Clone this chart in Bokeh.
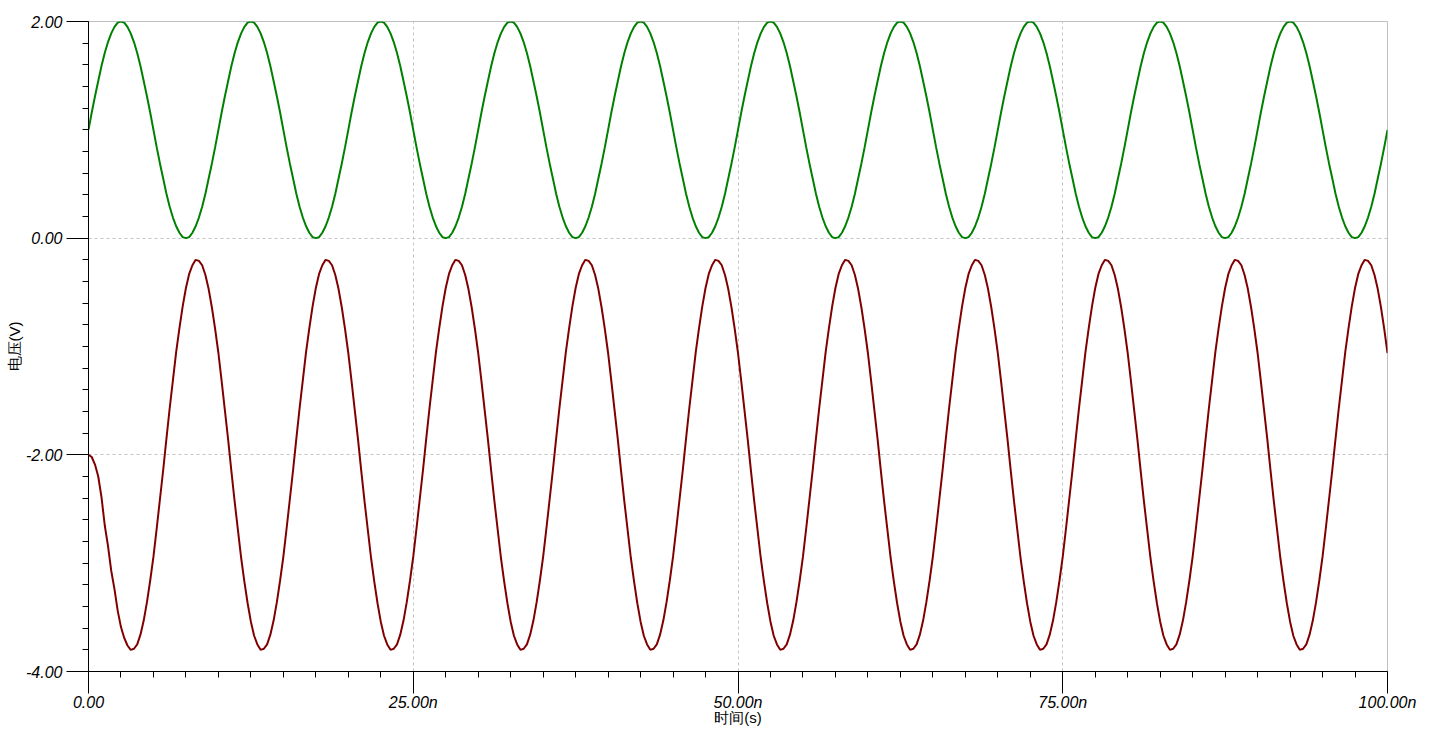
from bokeh.plotting import figure
from bokeh.models import FixedTicker, Range1d
from bokeh.embed import file_html
from bokeh.resources import INLINE

# sampling grid (ns)
time_ns = [i * 0.25 for i in range(401)]

# green trace (V), read every 0.25 ns
v_green = [
    1.00, 1.16, 1.31, 1.45, 1.59, 1.71, 1.81, 1.89, 1.95, 1.99, 2.00, 1.99, 1.95, 1.89, 1.81, 1.71, 1.59, 1.45, 1.31, 1.16,
    1.00, 0.84, 0.69, 0.55, 0.41, 0.29, 0.19, 0.11, 0.05, 0.01, 0.00, 0.01, 0.05, 0.11, 0.19, 0.29, 0.41, 0.55, 0.69, 0.84,
    1.00, 1.16, 1.31, 1.45, 1.59, 1.71, 1.81, 1.89, 1.95, 1.99, 2.00, 1.99, 1.95, 1.89, 1.81, 1.71, 1.59, 1.45, 1.31, 1.16,
    1.00, 0.84, 0.69, 0.55, 0.41, 0.29, 0.19, 0.11, 0.05, 0.01, 0.00, 0.01, 0.05, 0.11, 0.19, 0.29, 0.41, 0.55, 0.69, 0.84,
    1.00, 1.16, 1.31, 1.45, 1.59, 1.71, 1.81, 1.89, 1.95, 1.99, 2.00, 1.99, 1.95, 1.89, 1.81, 1.71, 1.59, 1.45, 1.31, 1.16,
    1.00, 0.84, 0.69, 0.55, 0.41, 0.29, 0.19, 0.11, 0.05, 0.01, 0.00, 0.01, 0.05, 0.11, 0.19, 0.29, 0.41, 0.55, 0.69, 0.84,
    1.00, 1.16, 1.31, 1.45, 1.59, 1.71, 1.81, 1.89, 1.95, 1.99, 2.00, 1.99, 1.95, 1.89, 1.81, 1.71, 1.59, 1.45, 1.31, 1.16,
    1.00, 0.84, 0.69, 0.55, 0.41, 0.29, 0.19, 0.11, 0.05, 0.01, 0.00, 0.01, 0.05, 0.11, 0.19, 0.29, 0.41, 0.55, 0.69, 0.84,
    1.00, 1.16, 1.31, 1.45, 1.59, 1.71, 1.81, 1.89, 1.95, 1.99, 2.00, 1.99, 1.95, 1.89, 1.81, 1.71, 1.59, 1.45, 1.31, 1.16,
    1.00, 0.84, 0.69, 0.55, 0.41, 0.29, 0.19, 0.11, 0.05, 0.01, 0.00, 0.01, 0.05, 0.11, 0.19, 0.29, 0.41, 0.55, 0.69, 0.84,
    1.00, 1.16, 1.31, 1.45, 1.59, 1.71, 1.81, 1.89, 1.95, 1.99, 2.00, 1.99, 1.95, 1.89, 1.81, 1.71, 1.59, 1.45, 1.31, 1.16,
    1.00, 0.84, 0.69, 0.55, 0.41, 0.29, 0.19, 0.11, 0.05, 0.01, 0.00, 0.01, 0.05, 0.11, 0.19, 0.29, 0.41, 0.55, 0.69, 0.84,
    1.00, 1.16, 1.31, 1.45, 1.59, 1.71, 1.81, 1.89, 1.95, 1.99, 2.00, 1.99, 1.95, 1.89, 1.81, 1.71, 1.59, 1.45, 1.31, 1.16,
    1.00, 0.84, 0.69, 0.55, 0.41, 0.29, 0.19, 0.11, 0.05, 0.01, 0.00, 0.01, 0.05, 0.11, 0.19, 0.29, 0.41, 0.55, 0.69, 0.84,
    1.00, 1.16, 1.31, 1.45, 1.59, 1.71, 1.81, 1.89, 1.95, 1.99, 2.00, 1.99, 1.95, 1.89, 1.81, 1.71, 1.59, 1.45, 1.31, 1.16,
    1.00, 0.84, 0.69, 0.55, 0.41, 0.29, 0.19, 0.11, 0.05, 0.01, 0.00, 0.01, 0.05, 0.11, 0.19, 0.29, 0.41, 0.55, 0.69, 0.84,
    1.00, 1.16, 1.31, 1.45, 1.59, 1.71, 1.81, 1.89, 1.95, 1.99, 2.00, 1.99, 1.95, 1.89, 1.81, 1.71, 1.59, 1.45, 1.31, 1.16,
    1.00, 0.84, 0.69, 0.55, 0.41, 0.29, 0.19, 0.11, 0.05, 0.01, 0.00, 0.01, 0.05, 0.11, 0.19, 0.29, 0.41, 0.55, 0.69, 0.84,
    1.00, 1.16, 1.31, 1.45, 1.59, 1.71, 1.81, 1.89, 1.95, 1.99, 2.00, 1.99, 1.95, 1.89, 1.81, 1.71, 1.59, 1.45, 1.31, 1.16,
    1.00, 0.84, 0.69, 0.55, 0.41, 0.29, 0.19, 0.11, 0.05, 0.01, 0.00, 0.01, 0.05, 0.11, 0.19, 0.29, 0.41, 0.55, 0.69, 0.84,
    1.00,
]

# dark red trace (V), read every 0.25 ns (note the start-up transient)
v_red = [
    -2.00, -2.02, -2.09, -2.20, -2.39, -2.65, -2.84, -3.07, -3.24, -3.44, -3.59, -3.69, -3.76, -3.80, -3.79, -3.75, -3.66, -3.53, -3.36, -3.16,
    -2.94, -2.68, -2.41, -2.14, -1.85, -1.57, -1.31, -1.05, -0.83, -0.63, -0.46, -0.33, -0.25, -0.20, -0.21, -0.25, -0.34, -0.47, -0.64, -0.84,
    -1.06, -1.32, -1.59, -1.86, -2.15, -2.43, -2.69, -2.95, -3.17, -3.37, -3.54, -3.67, -3.75, -3.80, -3.79, -3.75, -3.66, -3.53, -3.36, -3.16,
    -2.94, -2.68, -2.41, -2.14, -1.85, -1.57, -1.31, -1.05, -0.83, -0.63, -0.46, -0.33, -0.25, -0.20, -0.21, -0.25, -0.34, -0.47, -0.64, -0.84,
    -1.06, -1.32, -1.59, -1.86, -2.15, -2.43, -2.69, -2.95, -3.17, -3.37, -3.54, -3.67, -3.75, -3.80, -3.79, -3.75, -3.66, -3.53, -3.36, -3.16,
    -2.94, -2.68, -2.41, -2.14, -1.85, -1.57, -1.31, -1.05, -0.83, -0.63, -0.46, -0.33, -0.25, -0.20, -0.21, -0.25, -0.34, -0.47, -0.64, -0.84,
    -1.06, -1.32, -1.59, -1.86, -2.15, -2.43, -2.69, -2.95, -3.17, -3.37, -3.54, -3.67, -3.75, -3.80, -3.79, -3.75, -3.66, -3.53, -3.36, -3.16,
    -2.94, -2.68, -2.41, -2.14, -1.85, -1.57, -1.31, -1.05, -0.83, -0.63, -0.46, -0.33, -0.25, -0.20, -0.21, -0.25, -0.34, -0.47, -0.64, -0.84,
    -1.06, -1.32, -1.59, -1.86, -2.15, -2.43, -2.69, -2.95, -3.17, -3.37, -3.54, -3.67, -3.75, -3.80, -3.79, -3.75, -3.66, -3.53, -3.36, -3.16,
    -2.94, -2.68, -2.41, -2.14, -1.85, -1.57, -1.31, -1.05, -0.83, -0.63, -0.46, -0.33, -0.25, -0.20, -0.21, -0.25, -0.34, -0.47, -0.64, -0.84,
    -1.06, -1.32, -1.59, -1.86, -2.15, -2.43, -2.69, -2.95, -3.17, -3.37, -3.54, -3.67, -3.75, -3.80, -3.79, -3.75, -3.66, -3.53, -3.36, -3.16,
    -2.94, -2.68, -2.41, -2.14, -1.85, -1.57, -1.31, -1.05, -0.83, -0.63, -0.46, -0.33, -0.25, -0.20, -0.21, -0.25, -0.34, -0.47, -0.64, -0.84,
    -1.06, -1.32, -1.59, -1.86, -2.15, -2.43, -2.69, -2.95, -3.17, -3.37, -3.54, -3.67, -3.75, -3.80, -3.79, -3.75, -3.66, -3.53, -3.36, -3.16,
    -2.94, -2.68, -2.41, -2.14, -1.85, -1.57, -1.31, -1.05, -0.83, -0.63, -0.46, -0.33, -0.25, -0.20, -0.21, -0.25, -0.34, -0.47, -0.64, -0.84,
    -1.06, -1.32, -1.59, -1.86, -2.15, -2.43, -2.69, -2.95, -3.17, -3.37, -3.54, -3.67, -3.75, -3.80, -3.79, -3.75, -3.66, -3.53, -3.36, -3.16,
    -2.94, -2.68, -2.41, -2.14, -1.85, -1.57, -1.31, -1.05, -0.83, -0.63, -0.46, -0.33, -0.25, -0.20, -0.21, -0.25, -0.34, -0.47, -0.64, -0.84,
    -1.06, -1.32, -1.59, -1.86, -2.15, -2.43, -2.69, -2.95, -3.17, -3.37, -3.54, -3.67, -3.75, -3.80, -3.79, -3.75, -3.66, -3.53, -3.36, -3.16,
    -2.94, -2.68, -2.41, -2.14, -1.85, -1.57, -1.31, -1.05, -0.83, -0.63, -0.46, -0.33, -0.25, -0.20, -0.21, -0.25, -0.34, -0.47, -0.64, -0.84,
    -1.06, -1.32, -1.59, -1.86, -2.15, -2.43, -2.69, -2.95, -3.17, -3.37, -3.54, -3.67, -3.75, -3.80, -3.79, -3.75, -3.66, -3.53, -3.36, -3.16,
    -2.94, -2.68, -2.41, -2.14, -1.85, -1.57, -1.31, -1.05, -0.83, -0.63, -0.46, -0.33, -0.25, -0.20, -0.21, -0.25, -0.34, -0.47, -0.64, -0.84,
    -1.06,
]

x_ticks = [0, 25, 50, 75, 100]
x_tick_labels = ["0.00", "25.00n", "50.00n", "75.00n", "100.00n"]
x_minor_ticks = [i * 2.5 for i in range(41)]
y_ticks = [-4, -2, 0, 2]
y_tick_labels = ["-4.00", "-2.00", "0.00", "2.00"]
y_minor_ticks = [round(-4 + 0.2 * i, 1) for i in range(31)]

x_title = "时间(s)"
y_title = "电压(V)"

p = figure(width=1424, height=728, output_backend="svg", toolbar_location=None,
           x_range=Range1d(0, 100), y_range=Range1d(-4, 2),
           min_border_left=88, min_border_right=37, min_border_top=21,
           min_border_bottom=57, background_fill_color="white",
           border_fill_color="white")

p.outline_line_color = "#c0c0c0"
p.outline_line_width = 1

p.xaxis.ticker = FixedTicker(ticks=x_ticks, minor_ticks=x_minor_ticks)
p.yaxis.ticker = FixedTicker(ticks=y_ticks, minor_ticks=y_minor_ticks)
p.xaxis.major_label_overrides = {t: l for t, l in zip(x_ticks, x_tick_labels)}
p.yaxis.major_label_overrides = {t: l for t, l in zip(y_ticks, y_tick_labels)}

for ax in (p.xaxis, p.yaxis):
    ax.axis_line_color = "black"
    ax.axis_line_width = 1
    ax.major_tick_line_color = "black"
    ax.minor_tick_line_color = "black"
    ax.major_tick_out = 22
    ax.major_tick_in = 0
    ax.minor_tick_out = 6
    ax.minor_tick_in = 0
    ax.major_label_text_font = "Liberation Sans"
    ax.major_label_text_font_style = "italic"
    ax.major_label_text_font_size = "16px"
    ax.major_label_text_color = "black"
    ax.axis_label_text_font = "Liberation Sans"
    ax.axis_label_text_font_style = "normal"
    ax.axis_label_text_font_size = "15px"
    ax.axis_label_text_color = "black"

p.xaxis.major_label_standoff = 0
p.xaxis.axis_label_standoff = -5
p.yaxis.major_label_standoff = 4
p.yaxis.axis_label_standoff = 0
p.xaxis.axis_label = x_title
p.yaxis.axis_label = y_title

for g in (p.xgrid, p.ygrid):
    g.grid_line_color = "#c4c4c4"
    g.grid_line_dash = "3 3"
    g.grid_line_width = 1

p.line(time_ns, v_green, line_color="#008000", line_width=2)
p.line(time_ns, v_red, line_color="#800000", line_width=2)

open("out.html", "w").write(file_html(p, INLINE))
